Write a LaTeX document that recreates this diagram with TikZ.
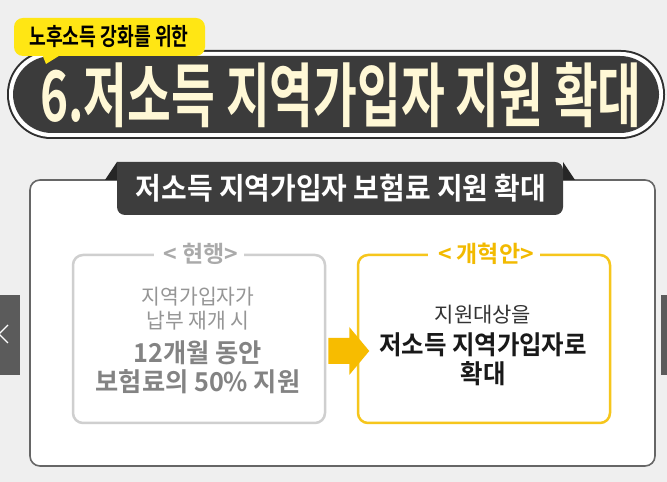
\documentclass[tikz,border=0pt]{standalone}
\usepackage{fontspec}
\setmainfont{Noto Sans CJK KR}[BoldFont={Noto Sans CJK KR Bold}]
\usepackage{graphicx}
\usetikzlibrary{calc,positioning}
\definecolor{bggray}{HTML}{EFEFEF}
\definecolor{pilldark}{HTML}{3B3B3B}
\definecolor{tagyellow}{HTML}{FFE614}
\definecolor{cream}{HTML}{FFF8D6}
\definecolor{oldline}{HTML}{CFCFCF}
\definecolor{oldtext}{HTML}{959595}
\definecolor{newline}{HTML}{F6C61C}
\definecolor{newlabel}{HTML}{F2BA00}
\definecolor{arrowfill}{HTML}{F7BC00}
\definecolor{navgray}{HTML}{5B5B5B}
\definecolor{tabdark}{HTML}{3D3D3D}

\begin{document}
\begin{tikzpicture}[x=1pt,y=1pt,
    boxlabel/.style={fill=white,inner xsep=6pt,inner ysep=1pt,font=\bfseries\fontsize{23}{23}\selectfont},
    oldtxt/.style={text=oldtext,font=\fontsize{21}{21}\selectfont},
    oldbold/.style={text=oldtext!88!black,font=\bfseries\fontsize{26}{26}\selectfont},
    newtxt/.style={text=black!80,font=\fontsize{21}{21}\selectfont},
    newbold/.style={text=black!90,font=\bfseries\fontsize{26}{26}\selectfont},
    casebox/.style={draw,line width=2.5pt,rounded corners=10pt,minimum width=252pt,minimum height=168pt}]
        % Background and frame
        \useasboundingbox (0,0) rectangle (667,482);
        \clip (0,0) rectangle (667,482);
        \fill[bggray] (0,0) rectangle (667,482);
        % Title pill
        \fill[pilldark!80!black,rounded corners=44pt] (7,343) rectangle (665,432);
        \fill[white,rounded corners=42pt] (9,345) rectangle (663,430);
        \fill[pilldark,rounded corners=39pt] (13,349) rectangle (659,426);
        \node[text=cream,font=\bfseries\fontsize{70}{70}\selectfont] (title) at (341,387)
            {\scalebox{0.68}[1]{6.저소득 지역가입자 지원 확대}};
        % Speech bubble
        \fill[tagyellow,rounded corners=9pt] (14,426) rectangle (205,464);
        \fill[tagyellow] (42,428) -- (62,428) -- (46,418) -- cycle;
        \node[text=black,font=\bfseries\fontsize{24}{24}\selectfont] (tag) at (109,445)
            {\scalebox{0.76}[1]{노후소득 강화를 위한}};
        % Main panel
        \filldraw[fill=white,draw=black!60,line width=1.6pt,rounded corners=10pt] (30,16) rectangle (655,302);
        % Tab with folded corners
        \fill[black!85] (105,302) -- (117,320) -- (117,302) -- cycle;
        \fill[black!85] (563,320) -- (575,302) -- (563,302) -- cycle;
        \fill[tabdark,rounded corners=8pt] (117,320) -- (117,267) -- (563,267) -- (563,320) [sharp corners] -- cycle;
        \node[text=white,font=\bfseries\fontsize{30}{30}\selectfont] (tab) at (341,294)
            {\scalebox{0.93}[1]{저소득 지역가입자 보험료 지원 확대}};
        % Current and reform boxes
        \node[casebox,draw=oldline] (old) at (199,143) {};
        \node[casebox,draw=newline] (new) at (484,143) {};
        \node[boxlabel,text=oldtext!80] (oldlab) at (old.north) {\,< 현행>};
        \node[boxlabel,text=newlabel] (newlab) at (new.north) {\,< 개혁안>};
        % Texts in the boxes
        \node[oldtxt] (o1) at (198,185) {\scalebox{0.97}[1]{지역가입자가}};
        \node[oldtxt] (o2) at (198,161) {\scalebox{0.97}[1]{납부 재개 시}};
        \node[oldbold] (o3) at (198,129) {\scalebox{0.97}[1]{12개월 동안}};
        \node[oldbold] (o4) at (198,100) {\scalebox{0.97}[1]{보험료의 50\% 지원}};
        \node[newtxt] (n1) at (483,167) {지원대상을};
        \node[newbold] (n2) at (483,137) {\scalebox{0.94}[1]{저소득 지역가입자로}};
        \node[newbold] (n3) at (483,108) {\scalebox{0.94}[1]{확대}};
        % Block arrow
        \coordinate (A) at ($(old.east)+(2,-12)$);
        \fill[arrowfill] ($(A)+(0,13)$) -- ++(21,0) -- ++(0,11) -- ($(A)+(41,0)$)
            -- ($(A)+(21,-24)$) -- ++(0,11) -- ++(-21,0) -- cycle;
        % Side navigation
        \fill[navgray] (0,107) rectangle (20,187);
        \draw[white,line width=1.4pt] (8,157) -- (-1,148) -- (8,139);
        \fill[navgray] (661,107) rectangle (667,187);
      \end{tikzpicture}
\end{document}
